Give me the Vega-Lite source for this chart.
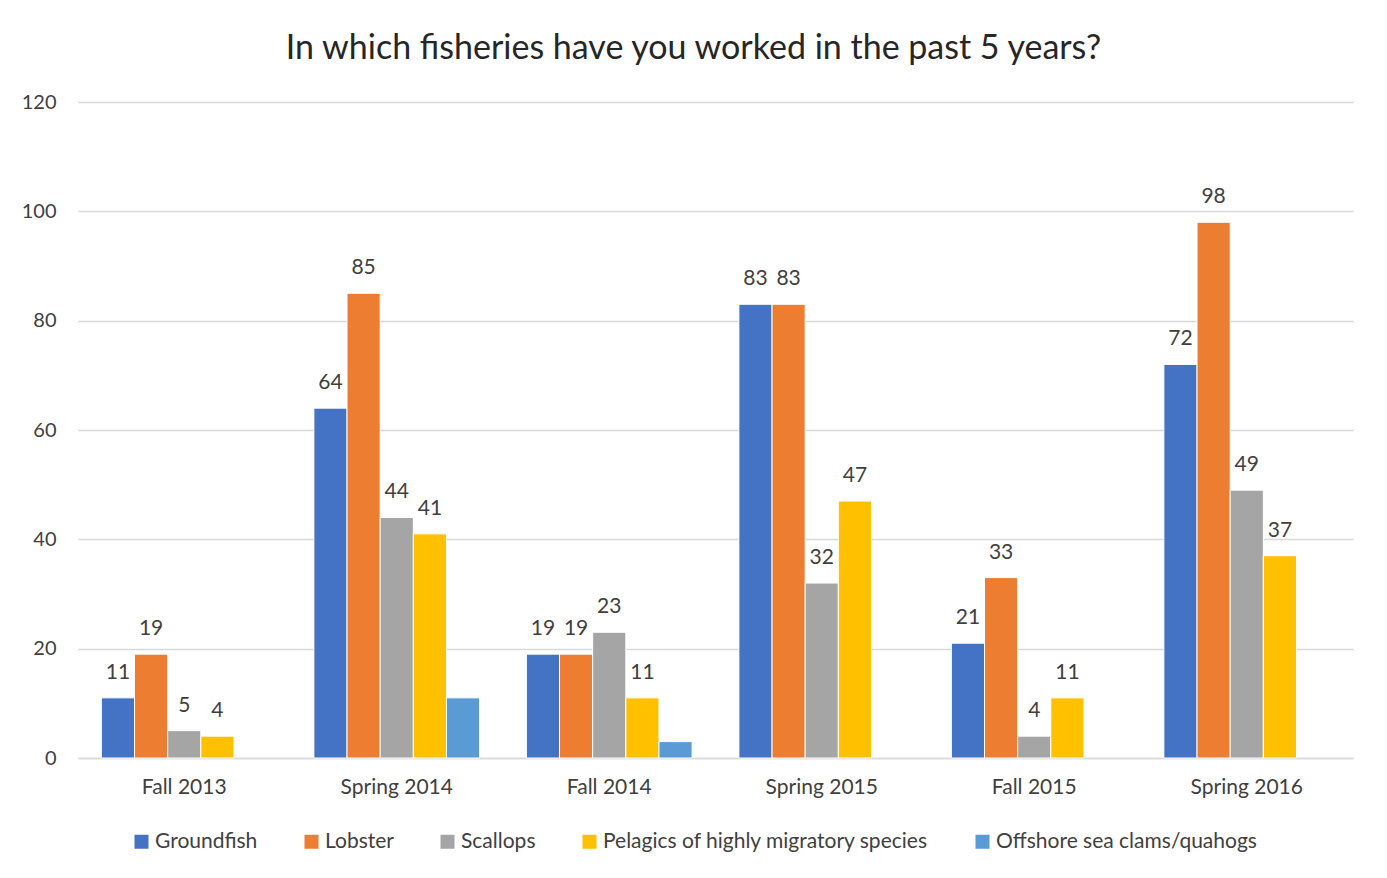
{
  "$schema": "https://vega.github.io/schema/vega-lite/v6.json",
  "autosize": {"type": "none"},
  "width": 1275,
  "height": 656,
  "padding": {"left": 78, "top": 102, "right": 34, "bottom": 120},
  "background": "white",
  "title": {
    "text": "In which fisheries have you worked in the past 5 years?",
    "font": "Lato",
    "fontSize": 34,
    "fontWeight": "normal",
    "color": "#262626",
    "anchor": "middle",
    "dx": -22,
    "offset": 26
  },
  "config": {
    "view": {"stroke": null},
    "font": "Lato"
  },
  "data": {
    "values": [
      {"season": "Fall 2013", "fishery": "Groundfish", "count": 11},
      {"season": "Fall 2013", "fishery": "Lobster", "count": 19},
      {"season": "Fall 2013", "fishery": "Scallops", "count": 5},
      {"season": "Fall 2013", "fishery": "Pelagics of highly migratory species", "count": 4},
      {"season": "Spring 2014", "fishery": "Groundfish", "count": 64},
      {"season": "Spring 2014", "fishery": "Lobster", "count": 85},
      {"season": "Spring 2014", "fishery": "Scallops", "count": 44},
      {"season": "Spring 2014", "fishery": "Pelagics of highly migratory species", "count": 41},
      {"season": "Spring 2014", "fishery": "Offshore sea clams/quahogs", "count": 11},
      {"season": "Fall 2014", "fishery": "Groundfish", "count": 19},
      {"season": "Fall 2014", "fishery": "Lobster", "count": 19},
      {"season": "Fall 2014", "fishery": "Scallops", "count": 23},
      {"season": "Fall 2014", "fishery": "Pelagics of highly migratory species", "count": 11},
      {"season": "Fall 2014", "fishery": "Offshore sea clams/quahogs", "count": 3},
      {"season": "Spring 2015", "fishery": "Groundfish", "count": 83},
      {"season": "Spring 2015", "fishery": "Lobster", "count": 83},
      {"season": "Spring 2015", "fishery": "Scallops", "count": 32},
      {"season": "Spring 2015", "fishery": "Pelagics of highly migratory species", "count": 47},
      {"season": "Fall 2015", "fishery": "Groundfish", "count": 21},
      {"season": "Fall 2015", "fishery": "Lobster", "count": 33},
      {"season": "Fall 2015", "fishery": "Scallops", "count": 4},
      {"season": "Fall 2015", "fishery": "Pelagics of highly migratory species", "count": 11},
      {"season": "Spring 2016", "fishery": "Groundfish", "count": 72},
      {"season": "Spring 2016", "fishery": "Lobster", "count": 98},
      {"season": "Spring 2016", "fishery": "Scallops", "count": 49},
      {"season": "Spring 2016", "fishery": "Pelagics of highly migratory species", "count": 37}
    ]
  },
  "encoding": {
    "x": {
      "field": "season",
      "type": "nominal",
      "sort": ["Fall 2013", "Spring 2014", "Fall 2014", "Spring 2015", "Fall 2015", "Spring 2016"],
      "scale": {"paddingInner": 0.22, "paddingOuter": 0.11},
      "axis": {
        "title": null,
        "labelAngle": 0,
        "labelFontSize": 21,
        "labelColor": "#404040",
        "labelPadding": 18,
        "ticks": false,
        "domain": true,
        "domainColor": "#d9d9d9",
        "domainWidth": 1.5
      }
    },
    "xOffset": {
      "field": "fishery",
      "type": "nominal",
      "sort": ["Groundfish", "Lobster", "Scallops", "Pelagics of highly migratory species", "Offshore sea clams/quahogs"],
      "scale": {"domain": ["Groundfish", "Lobster", "Scallops", "Pelagics of highly migratory species", "Offshore sea clams/quahogs"], "paddingInner": 0, "paddingOuter": 0}
    },
    "y": {
      "field": "count",
      "type": "quantitative",
      "scale": {"domain": [0, 120], "nice": false},
      "axis": {
        "title": null,
        "values": [0, 20, 40, 60, 80, 100, 120],
        "labelFontSize": 20,
        "labelColor": "#404040",
        "labelPadding": 22,
        "ticks": false,
        "domain": false,
        "gridColor": "#d9d9d9",
        "gridWidth": 1.5
      }
    }
  },
  "layer": [
    {
      "mark": {"type": "bar", "stroke": "white", "strokeWidth": 1},
      "encoding": {
        "color": {
          "field": "fishery",
          "type": "nominal",
          "scale": {
            "domain": ["Groundfish", "Lobster", "Scallops", "Pelagics of highly migratory species", "Offshore sea clams/quahogs"],
            "range": ["#4472C4", "#ED7D31", "#A5A5A5", "#FFC000", "#5B9BD5"]
          },
          "legend": {
            "title": null,
            "orient": "none",
            "legendX": 53,
            "legendY": 729,
            "direction": "horizontal",
            "symbolType": "square",
            "symbolSize": 196,
            "symbolStrokeWidth": 0,
            "labelFontSize": 21,
            "labelColor": "#404040",
            "labelLimit": 0,
            "columnPadding": 43,
            "labelOffset": 3
          }
        }
      }
    },
    {
      "transform": [{"filter": "datum.fishery !== 'Offshore sea clams/quahogs'"}],
      "mark": {"type": "text", "dy": -19, "baseline": "alphabetic", "fontSize": 21, "color": "#404040"},
      "encoding": {
        "text": {"field": "count", "type": "quantitative"}
      }
    }
  ]
}
